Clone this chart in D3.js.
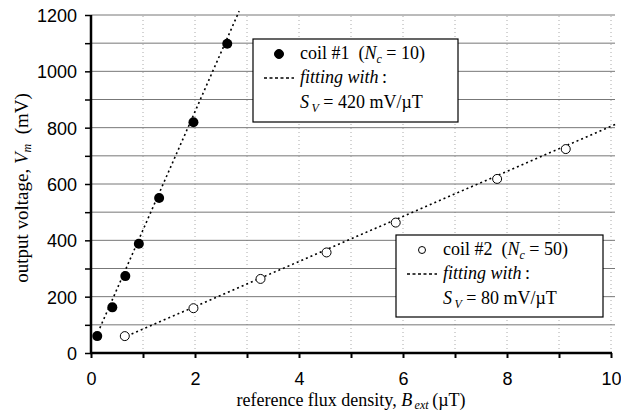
<!DOCTYPE html>
<html lang="en">
    <head>
        <meta charset="utf-8">
        <title>Output voltage vs. reference flux density</title>
        <script src="https://d3js.org/d3.v7.min.js"></script>
        <style type="text/css">
            body { margin: 0; background: #fff; }
            .tick text { font-family: "Liberation Sans", Arial, sans-serif; font-size: 18px; fill: #000; }
            .serif { font-family: "Liberation Serif", "Times New Roman", serif; fill: #000; }
        </style>
    </head>
    <body>
        <script type="text/javascript">

        // Constants
            const w = 621;
            const h = 412;
            const margin = {left: 91, right: 10, top: 15, bottom: 59};

        // Data
            const coil1B = [0.12, 0.41, 0.66, 0.92, 1.31, 1.97, 2.62];
            const coil1V = [60, 162, 273, 388, 550, 819, 1098];
            const coil2B = [0.65, 1.97, 3.26, 4.53, 5.86, 7.81, 9.13];
            const coil2V = [60, 159, 263, 357, 463, 618, 724];

            // fits: V = slope * B + offset, drawn over the given B range
            const fit1 = {slope: 420, offset: 17, range: [0.17, 2.85]};
            const fit2 = {slope: 80, offset: 5, range: [0.78, 10.1]};

            const xTicks = [0, 1, 2, 3, 4, 5, 6, 7, 8, 9, 10];
            const yTicks = [0, 100, 200, 300, 400, 500, 600, 700, 800, 900, 1000, 1100, 1200];

            const coil1 = coil1B.map((b, i) => ({b: b, v: coil1V[i]}));
            const coil2 = coil2B.map((b, i) => ({b: b, v: coil2V[i]}));

        // SVG
            const svg = d3.select("body")
                          .append("svg")
                          .attr("width", w)
                          .attr("height", h);

            const xScale = d3.scaleLinear()
                             .domain([0, 10])
                             .range([margin.left, w - margin.right]);

            const yScale = d3.scaleLinear()
                             .domain([0, 1200])
                             .range([h - margin.bottom, margin.top]);

        // Grid
            svg.append("g")
               .selectAll("line")
               .data(xTicks.slice(1))
               .enter()
               .append("line")
               .attr("x1", d => xScale(d))
               .attr("x2", d => xScale(d))
               .attr("y1", yScale(0))
               .attr("y2", yScale(1200))
               .attr("stroke", "#aaa")
               .attr("stroke-width", 1)
               .attr("stroke-dasharray", "1,3");

            svg.append("g")
               .selectAll("line")
               .data(yTicks.slice(1))
               .enter()
               .append("line")
               .attr("x1", xScale(0))
               .attr("x2", xScale(10) + 4)
               .attr("y1", d => yScale(d))
               .attr("y2", d => yScale(d))
               .attr("stroke", "#777")
               .attr("stroke-width", 1);

        // Axes
            const bottomAxis = d3.axisBottom(xScale)
                                 .tickValues(xTicks)
                                 .tickSize(5)
                                 .tickPadding(14)
                                 .tickFormat(d => d % 2 === 0 ? d : "");

            const xg = svg.append("g")
                          .attr("transform", "translate(0," + yScale(0) + ")")
                          .call(bottomAxis);
            xg.select(".domain").attr("stroke-width", 2.5).attr("d", "M" + (xScale(0) - 1) + ",0H" + (xScale(10) + 1));
            xg.selectAll(".tick line").attr("stroke-width", 2);

            const leftAxis = d3.axisLeft(yScale)
                               .tickValues(yTicks)
                               .tickSize(6)
                               .tickPadding(8)
                               .tickFormat(d => d % 200 === 0 ? d : "");

            const yg = svg.append("g")
                          .attr("transform", "translate(" + xScale(0) + ",0)")
                          .call(leftAxis);
            yg.select(".domain").attr("stroke-width", 2.5).attr("d", "M0," + (yScale(0) + 1) + "V" + yScale(1200));
            yg.selectAll(".tick line").attr("stroke-width", 1.5);
            yg.selectAll(".tick text").attr("dy", "0.36em");

        // Fit lines
            const line = d3.line().x(d => xScale(d.b)).y(d => yScale(d.v));
            [fit1, fit2].forEach(f => {
                svg.append("path")
                   .datum(f.range.map(b => ({b: b, v: f.slope * b + f.offset})))
                   .attr("d", line)
                   .attr("fill", "none")
                   .attr("stroke", "#000")
                   .attr("stroke-width", 1.6)
                   .attr("stroke-dasharray", "2,3");
            });

        // Points
            svg.append("g")
               .selectAll("circle")
               .data(coil1)
               .enter()
               .append("circle")
               .attr("cx", d => xScale(d.b))
               .attr("cy", d => yScale(d.v))
               .attr("r", 5)
               .attr("fill", "#000");

            svg.append("g")
               .selectAll("circle")
               .data(coil2)
               .enter()
               .append("circle")
               .attr("cx", d => xScale(d.b))
               .attr("cy", d => yScale(d.v))
               .attr("r", 4.5)
               .attr("fill", "#fff")
               .attr("stroke", "#000")
               .attr("stroke-width", 1);

        // Legends
            function legend(x, y, w2, h2, filled, name, nc, sv) {
                const g = svg.append("g").attr("transform", "translate(" + x + "," + y + ")");
                g.append("rect")
                 .attr("width", w2).attr("height", h2)
                 .attr("fill", "#fff").attr("stroke", "#000").attr("stroke-width", 1.2);
                g.append("circle")
                 .attr("cx", 26).attr("cy", 15).attr("r", filled ? 4.5 : 3.5)
                 .attr("fill", filled ? "#000" : "#fff")
                 .attr("stroke", "#000").attr("stroke-width", 1);
                g.append("line")
                 .attr("x1", 11).attr("x2", 41).attr("y1", 39).attr("y2", 39)
                 .attr("stroke", "#000").attr("stroke-width", 1.3)
                 .attr("stroke-dasharray", "3,2.5");

                const t1 = g.append("text").attr("class", "serif").attr("x", 47).attr("y", 20).attr("font-size", "18px");
                t1.append("tspan").text(name + "\u00a0\u00a0(");
                t1.append("tspan").attr("font-style", "italic").text("N");
                t1.append("tspan").attr("font-style", "italic").attr("font-size", "12px").attr("dy", 4).text("c");
                t1.append("tspan").attr("dy", -4).text("\u00a0= " + nc + ")");

                const t2 = g.append("text").attr("class", "serif").attr("x", 47).attr("y", 44).attr("font-size", "18px");
                t2.append("tspan").attr("font-style", "italic").text("fitting with");
                t2.append("tspan").text("\u2009:");

                const t3 = g.append("text").attr("class", "serif").attr("x", 47).attr("y", 69).attr("font-size", "18px");
                t3.append("tspan").attr("font-style", "italic").text("S");
                t3.append("tspan").attr("font-style", "italic").attr("font-size", "12px").attr("dy", 4).text("\u2009V");
                t3.append("tspan").attr("dy", -4).text("\u00a0= " + sv + " mV/\u00b5T");
            }

            legend(253, 39, 205, 83, true, "coil #1", 10, 420);
            legend(396, 235, 207, 82, false, "coil #2", 50, 80);

        // Axis labels
            const xl = svg.append("text")
                          .attr("class", "serif")
                          .attr("x", 351)
                          .attr("y", 406)
                          .attr("text-anchor", "middle")
                          .attr("font-size", "18px");
            xl.append("tspan").text("reference flux density, ");
            xl.append("tspan").attr("font-style", "italic").text("B");
            xl.append("tspan").attr("font-style", "italic").attr("font-size", "12px").attr("dy", 3).text("\u2009ext");
            xl.append("tspan").attr("dy", -3).text("\u2009(\u00b5T)");

            const yl = svg.append("text")
                          .attr("class", "serif")
                          .attr("transform", "translate(28," + ((yScale(0) + yScale(1200)) / 2 + 4) + ") rotate(-90)")
                          .attr("text-anchor", "middle")
                          .attr("font-size", "19px");
            yl.append("tspan").text("output voltage, ");
            yl.append("tspan").attr("font-style", "italic").text("V");
            yl.append("tspan").attr("font-style", "italic").attr("font-size", "12px").attr("dy", 3).text("m");
            yl.append("tspan").attr("dy", -3).text("\u00a0\u00a0(mV)");

        </script>
    </body>
</html>
